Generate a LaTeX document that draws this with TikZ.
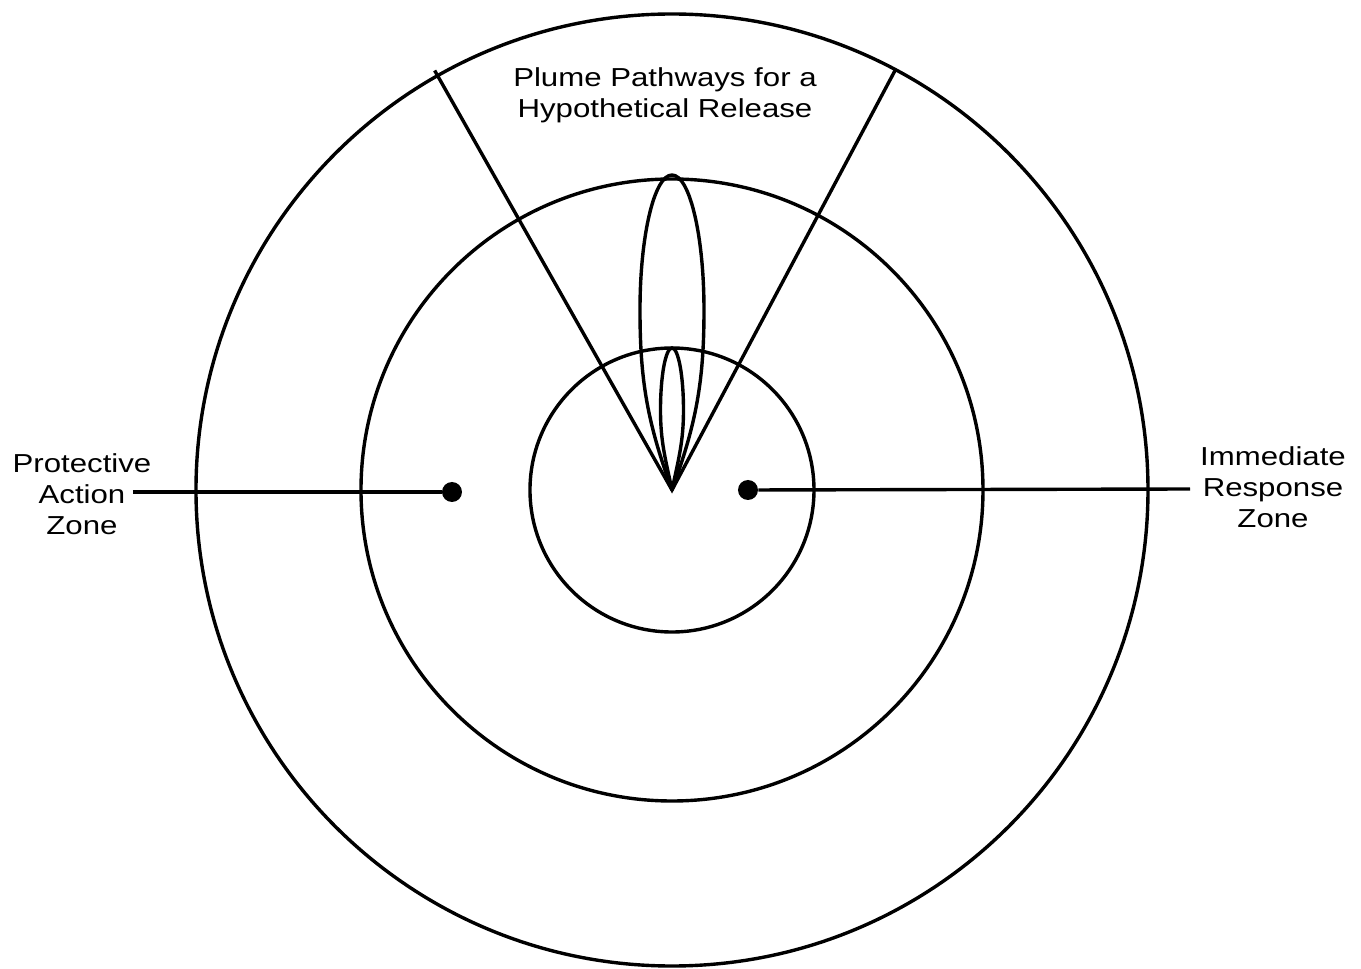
\documentclass[tikz,border=0pt]{standalone}
\usepackage{fontspec}
\setmainfont{Liberation Sans}[FakeStretch=1.2]
\usepackage{tikz}
\usetikzlibrary{positioning,calc}

\tikzset{
  zoneline/.style={line width=1.7pt},
  zonedot/.style={circle,fill=black,inner sep=0pt,minimum size=10pt},
  zonelabel/.style={align=center,font=\fontsize{13}{15.5}\selectfont,inner sep=0pt}
}

\begin{document}
\begin{tikzpicture}[x=0.5pt,y=0.5pt]
  \useasboundingbox (-672,-479) rectangle (689,490);
  \coordinate (src) at (0,0); % release point
  \draw[zoneline] (src) circle (476); % outer circle
  \draw[zoneline] (src) circle (311); % middle circle
  \draw[zoneline] (src) circle (142); % inner circle
  \draw[zoneline] (119.5:482) -- (src) -- (62:476); % wedge of the plume pathways
  \draw[zoneline] (src) to[out=110,in=-90] (-32,180)
    arc[start angle=180,end angle=0,x radius=32,y radius=135]
    to[out=-90,in=70] (src); % long plume
  \draw[zoneline] (src) to[out=102,in=-90] (-11.5,80)
    arc[start angle=180,end angle=0,x radius=11.5,y radius=62]
    to[out=-90,in=78] (src); % short plume
  \node[zonelabel] (plume) at (-7,395) {Plume Pathways for a\\Hypothetical Release};
  \node[zonedot] (padot) at (-220,-2) {};
  \node[zonedot] (irdot) at (76,0) {};
  \node[zonelabel] (pazone) at (-590,-4) {Protective\\Action\\Zone};
  \node[zonelabel] (irzone) at (601,3) {Immediate\\Response\\Zone};
  \coordinate (pa-end) at (-539,-2);
  \coordinate (ir-end) at (518,1);
  \draw[zoneline] (pa-end) -- (padot); % line to the protective action zone
  \draw[zoneline] (irdot) -- (ir-end); % line to the immediate response zone
\end{tikzpicture}
\end{document}
